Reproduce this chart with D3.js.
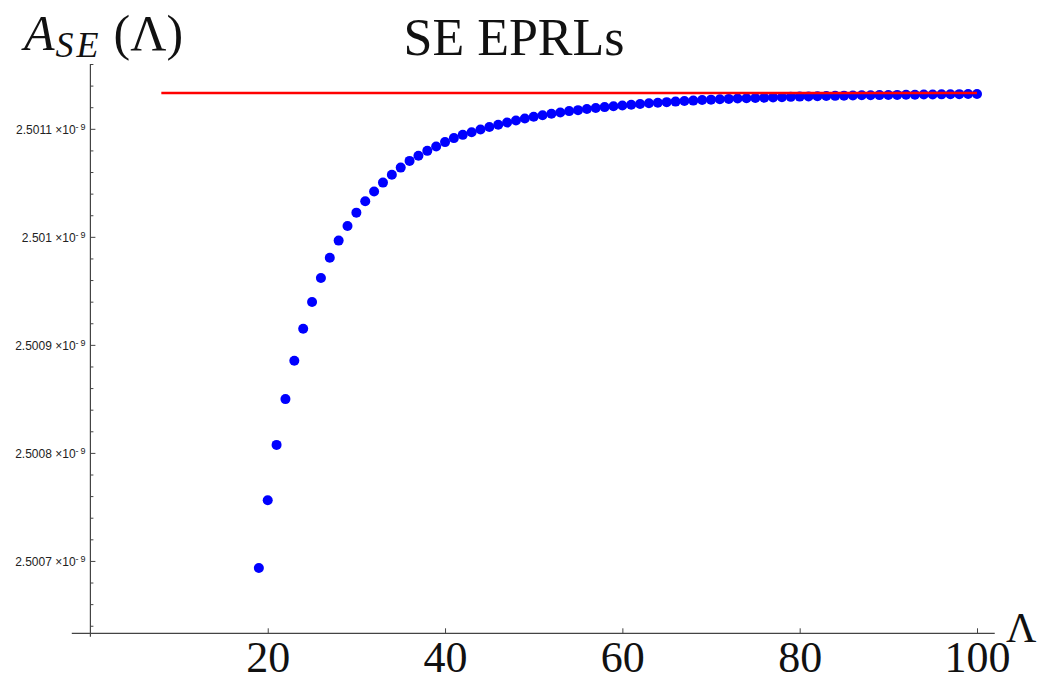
<!DOCTYPE html>
<html>
<head>
<meta charset="utf-8">
<script src="https://cdn.jsdelivr.net/npm/d3@7"></script>
<style>
  html, body { margin: 0; padding: 0; background: #fff; }
  svg { display: block; }
  .serif { font-family: "Liberation Serif", "Times New Roman", serif; fill: #111; }
  .ylab { font-family: "Liberation Sans", Arial, sans-serif; font-size: 12px; fill: #222; }
</style>
</head>
<body>
<svg id="chart" width="1039" height="682"></svg>
<script>
// Cutoff Λ at which the amplitude was evaluated
const lambdas = [
  19, 20, 21, 22, 23, 24, 25, 26, 27, 28, 29, 30, 31, 32, 33, 34, 35, 36, 37, 38,
  39, 40, 41, 42, 43, 44, 45, 46, 47, 48, 49, 50, 51, 52, 53, 54, 55, 56, 57, 58,
  59, 60, 61, 62, 63, 64, 65, 66, 67, 68, 69, 70, 71, 72, 73, 74, 75, 76, 77, 78,
  79, 80, 81, 82, 83, 84, 85, 86, 87, 88, 89, 90, 91, 92, 93, 94, 95, 96, 97, 98,
  99, 100
];

// A_SE(Λ) in units of 10^-9
const amplitudes = [
  2.5006934, 2.5007562, 2.5008074, 2.5008498, 2.5008853, 2.5009149, 2.5009397, 2.5009619,
  2.5009807, 2.5009965, 2.5010101, 2.5010224, 2.5010330, 2.5010419, 2.5010502, 2.5010574,
  2.5010641, 2.5010703, 2.5010750, 2.5010796, 2.5010836, 2.5010877, 2.5010914, 2.5010944,
  2.5010969, 2.5010994, 2.5011016, 2.5011037, 2.5011058, 2.5011077, 2.5011095, 2.5011111,
  2.5011125, 2.5011139, 2.5011151, 2.5011164, 2.5011173, 2.5011183, 2.5011192, 2.5011201,
  2.5011209, 2.5011216, 2.5011223, 2.5011230, 2.5011236, 2.5011242, 2.5011247, 2.5011252,
  2.5011257, 2.5011261, 2.5011266, 2.5011270, 2.5011273, 2.5011277, 2.5011280, 2.5011283,
  2.5011285, 2.5011288, 2.5011291, 2.5011293, 2.5011296, 2.5011298, 2.5011299, 2.5011301,
  2.5011303, 2.5011305, 2.5011307, 2.5011308, 2.5011310, 2.5011311, 2.5011312, 2.5011313,
  2.5011314, 2.5011315, 2.5011316, 2.5011317, 2.5011318, 2.5011319, 2.5011320, 2.5011321,
  2.5011322, 2.5011323
];

// Asymptotic value (horizontal reference line), its Λ extent
const limitValue = 2.5011331;
const limitRange = [8, 100];

// Axis ticks
const xMajorTicks = [20, 40, 60, 80, 100];
const xMinorTicks = [5, 10, 15, 25, 30, 35, 45, 50, 55, 65, 70, 75, 85, 90, 95];
const yMajorTicks = [2.5007, 2.5008, 2.5009, 2.5010, 2.5011];
const yMajorLabels = ["2.5007", "2.5008", "2.5009", "2.501", "2.5011"];
const yMinorTicks = [
  2.50064, 2.50066, 2.50068, 2.50072, 2.50074, 2.50076, 2.50078,
  2.50082, 2.50084, 2.50086, 2.50088, 2.50092, 2.50094, 2.50096, 2.50098,
  2.50102, 2.50104, 2.50106, 2.50108, 2.50112, 2.50114, 2.50116
];

const svg = d3.select("#chart");

const x = d3.scaleLinear().domain([0, 100]).range([90.4, 977]);
const y = d3.scaleLinear().domain([2.500633, 2.501160]).range([633.3, 64]);

const axisColor = "#444";
const x0 = x(0);
const yBase = y.range()[0];

// Axis lines
svg.append("line")
  .attr("x1", x(-2.1)).attr("x2", x(102))
  .attr("y1", yBase).attr("y2", yBase)
  .attr("stroke", axisColor).attr("stroke-width", 1.2);
svg.append("line")
  .attr("x1", x0).attr("x2", x0)
  .attr("y1", y(2.50116)).attr("y2", yBase + 3.5)
  .attr("stroke", axisColor).attr("stroke-width", 1.2);

// X ticks (pointing into the plot)
const gx = svg.append("g").attr("transform", `translate(0,${yBase})`);
gx.call(d3.axisBottom(x).tickValues(xMinorTicks).tickSizeInner(-3).tickSizeOuter(0).tickFormat(""));
gx.call(d3.axisBottom(x).tickValues(xMajorTicks).tickSizeInner(-5).tickSizeOuter(0).tickFormat(d3.format("d")));
gx.selectAll(".domain").remove();
gx.selectAll("line").attr("stroke", axisColor).attr("stroke-width", 1);
gx.selectAll("text")
  .attr("class", "serif")
  .attr("y", 38.5).attr("dy", 0)
  .attr("font-size", 44);

// Y ticks
const gy = svg.append("g").attr("transform", `translate(${x0},0)`);
gy.call(d3.axisLeft(y).tickValues(yMinorTicks).tickSizeInner(-3).tickSizeOuter(0).tickFormat(""));
const yMajor = svg.append("g").attr("transform", `translate(${x0},0)`)
  .call(d3.axisLeft(y).tickValues(yMajorTicks).tickSizeInner(-5).tickSizeOuter(0)
    .tickFormat((d, i) => yMajorLabels[i]));
gy.selectAll(".domain").remove();
yMajor.selectAll(".domain").remove();
svg.selectAll("g line").attr("stroke", axisColor).attr("stroke-width", 1);

// Labels of the form "2.5011 ×10^-9"
yMajor.selectAll("text").each(function(d, i) {
  const t = d3.select(this);
  t.text(null)
    .attr("class", "ylab")
    .attr("x", -5).attr("dy", "0.38em")
    .attr("text-anchor", "end")
    .attr("font-size", null).attr("font-family", null).attr("fill", null);
  t.append("tspan").text(yMajorLabels[i] + " \u00d710");
  t.append("tspan").attr("dy", "-0.45em").attr("font-size", "9px").text("-\u20099");
});

// Data points
svg.append("g")
  .selectAll("circle")
  .data(lambdas.map((l, i) => ({ l, v: amplitudes[i] })))
  .join("circle")
  .attr("cx", d => x(d.l))
  .attr("cy", d => y(d.v))
  .attr("r", 5)
  .attr("fill", "#0000ff");

// Asymptote
svg.append("line")
  .attr("x1", x(limitRange[0])).attr("x2", x(limitRange[1]))
  .attr("y1", y(limitValue)).attr("y2", y(limitValue))
  .attr("stroke", "#ff0000").attr("stroke-width", 2.6);

// Axis labels and title
const yLabel = svg.append("text").attr("class", "serif")
  .attr("x", 24).attr("y", 50).attr("font-size", 50);
yLabel.append("tspan").attr("font-style", "italic").text("A");
yLabel.append("tspan").attr("font-style", "italic").attr("font-size", 36)
  .attr("letter-spacing", 3).attr("dy", 7).attr("dx", 1).text("SE");
yLabel.append("tspan").attr("dy", -7).attr("dx", 12).text("(\u039b)");

svg.append("text").attr("class", "serif")
  .attr("x", 1006).attr("y", 642).attr("font-size", 42)
  .text("\u039b");

svg.append("text").attr("class", "serif")
  .attr("x", 514).attr("y", 55).attr("text-anchor", "middle")
  .attr("font-size", 52)
  .text("SE EPRLs");
</script>
</body>
</html>
